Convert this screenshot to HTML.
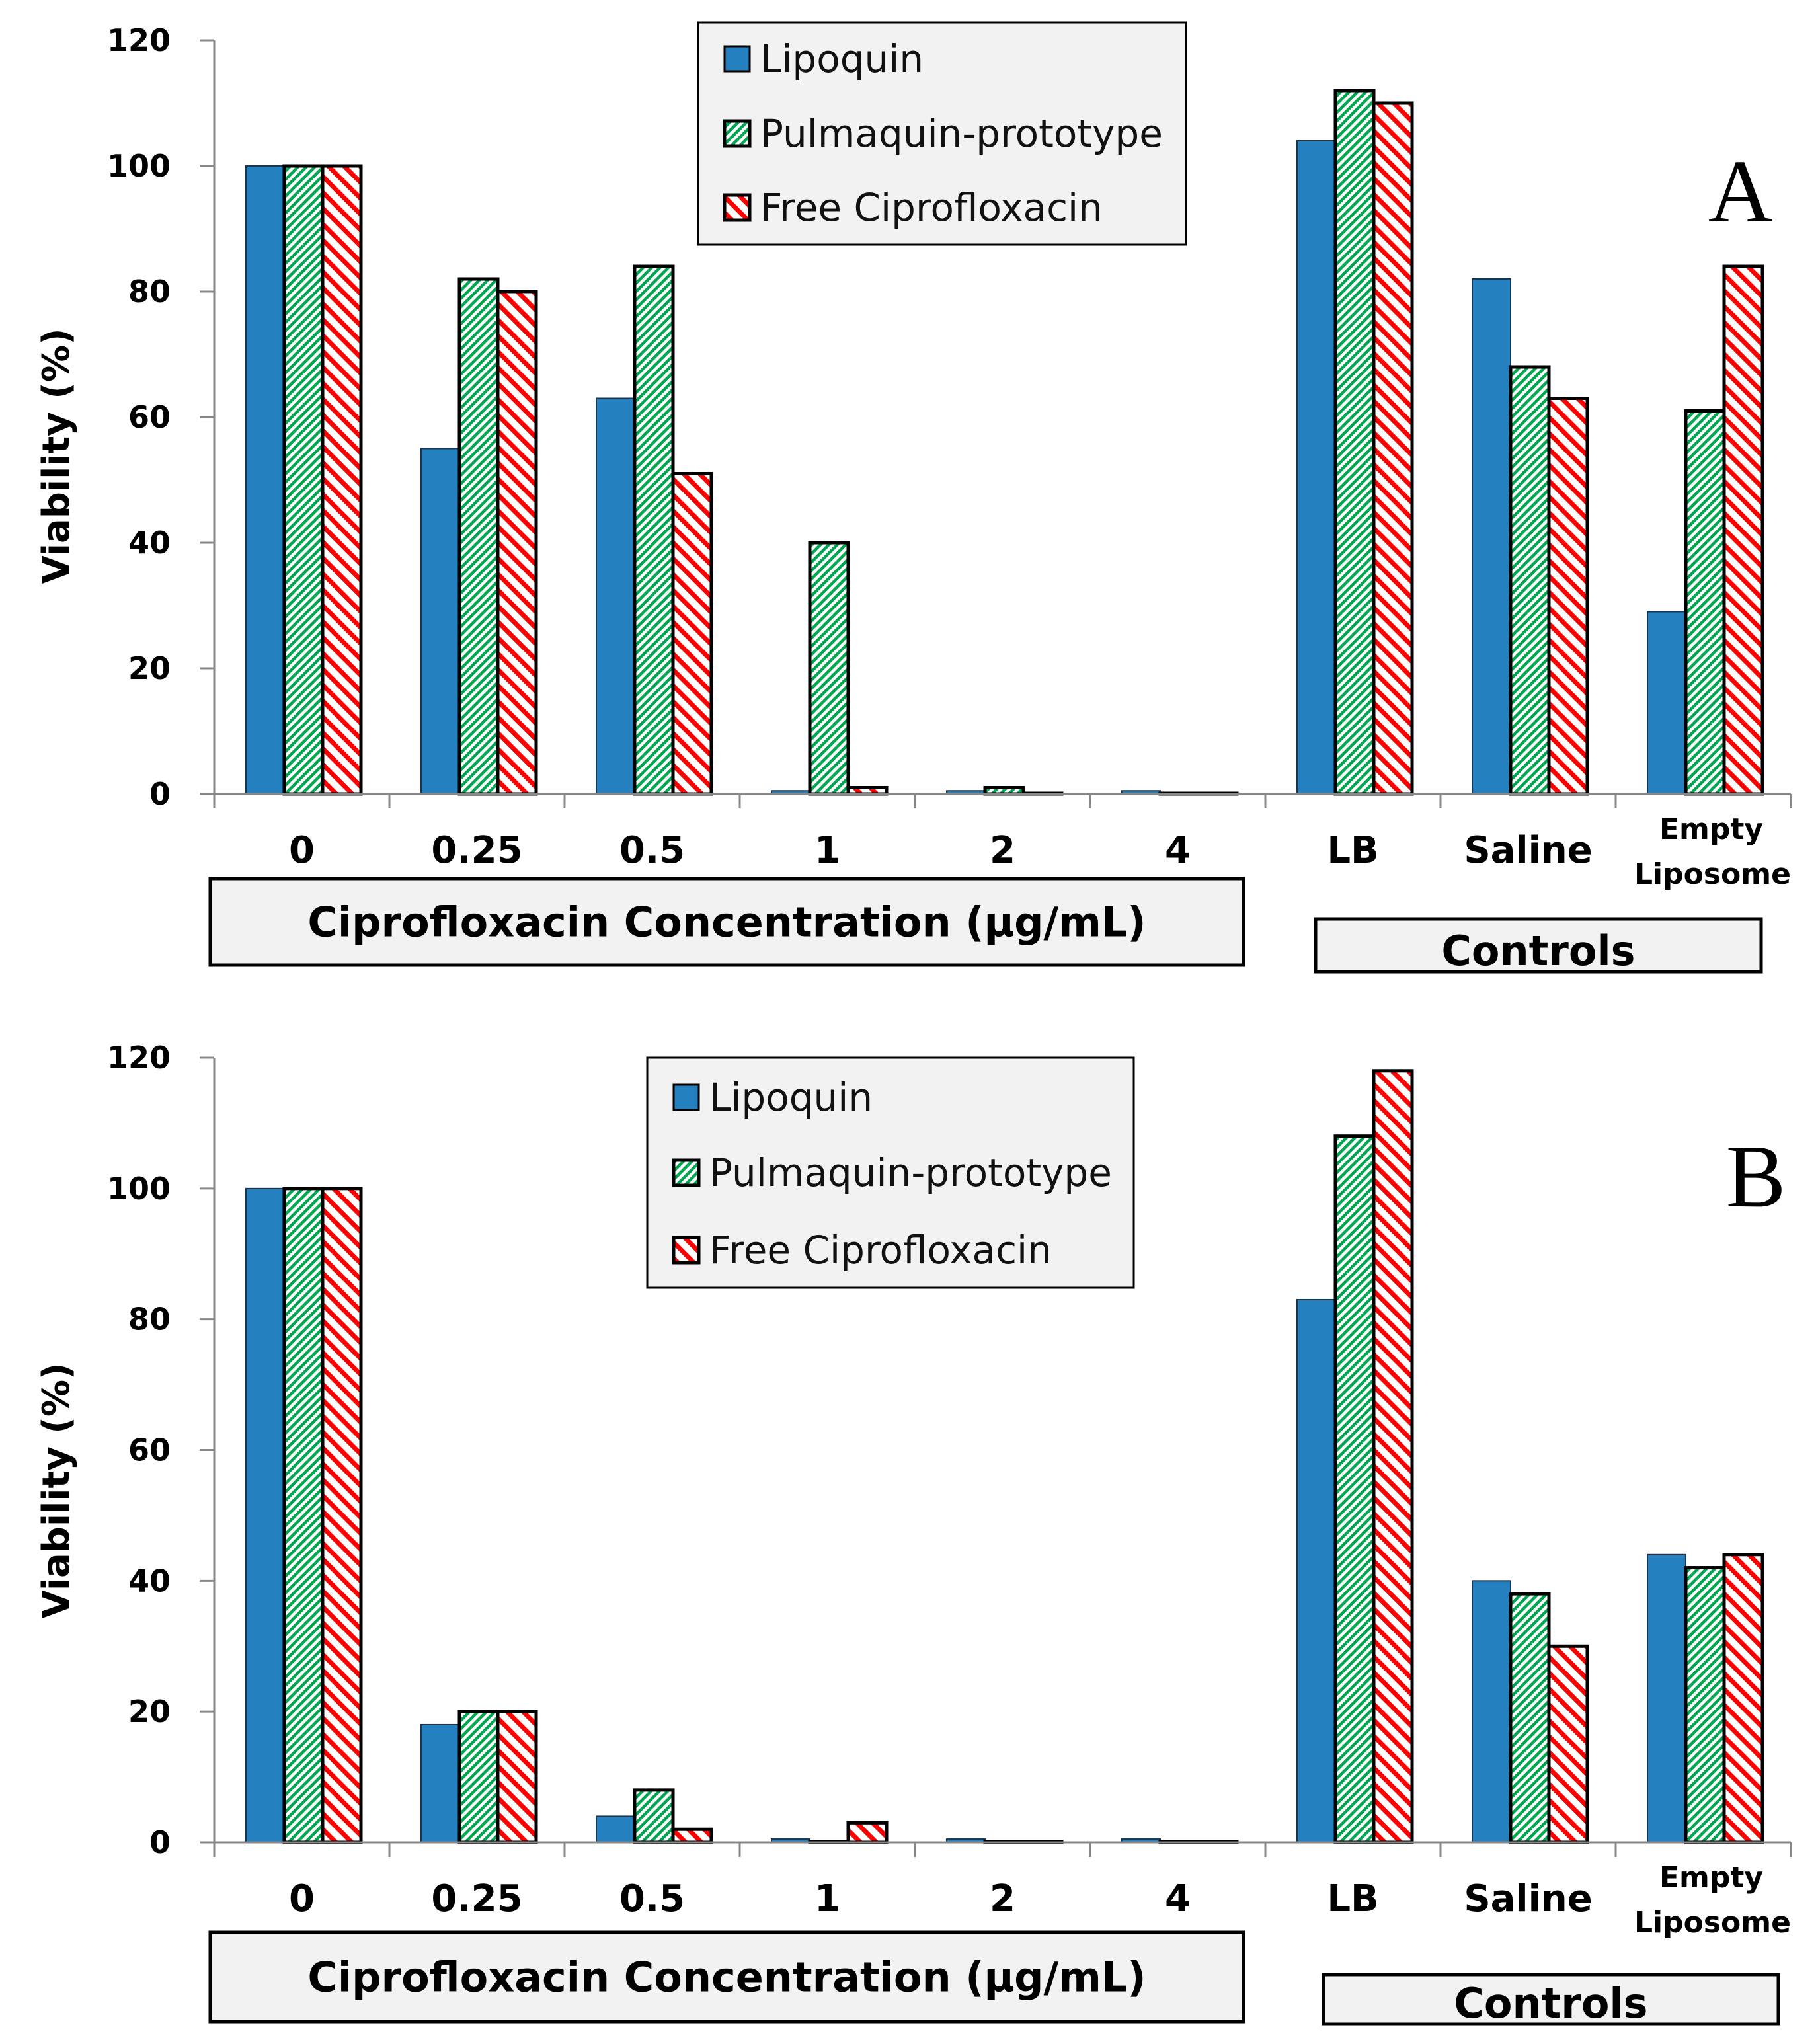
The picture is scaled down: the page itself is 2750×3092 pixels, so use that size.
<!DOCTYPE html>
<html><head><meta charset="utf-8"><style>
html,body{margin:0;padding:0;background:#fff;}
svg{display:block;}
text{font-family:"DejaVu Sans","Liberation Sans",sans-serif;}
</style></head><body>
<svg id="fig" width="2750" height="3092" xmlns="http://www.w3.org/2000/svg">
<defs>
<pattern id="pGreen" patternUnits="userSpaceOnUse" width="9" height="9" patternTransform="rotate(45)">
<rect width="9" height="9" fill="#fff"/><rect width="4.5" height="9" fill="#00a650"/></pattern>
<pattern id="pRed" patternUnits="userSpaceOnUse" width="17" height="17" patternTransform="rotate(-45)">
<rect width="17" height="17" fill="#fff"/><rect width="7" height="17" fill="#ff0000"/></pattern>
</defs>
</svg>
<script>
const categories = ["0","0.25","0.5","1","2","4","LB","Saline","Empty Liposome"];
const seriesNames = ["Lipoquin","Pulmaquin-prototype","Free Ciprofloxacin"];
const lipoA = [100,55,63,0.5,0.5,0.5,104,82,29];
const pulmA = [100,82,84,40,1,0,112,68,61];
const freeA = [100,80,51,1,0,0,110,63,84];
const lipoB = [100,18,4,0.5,0.5,0.5,83,40,44];
const pulmB = [100,20,8,0,0,0,108,38,42];
const freeB = [100,20,2,3,0,0,118,30,44];
const yTicks = [0,20,40,60,80,100,120];

const NS="http://www.w3.org/2000/svg";
const svg=document.getElementById('fig');
function el(tag,attrs,parent,txt){const e=document.createElementNS(NS,tag);for(const k in attrs)e.setAttribute(k,attrs[k]);if(txt!==undefined)e.textContent=txt;(parent||svg).appendChild(e);return e;}
const fills=["#2580c0","url(#pGreen)","url(#pRed)"];

function panel(cfg){
  const g=el('g',{});
  
  
  const x0=324,x1=2709,y0=cfg.y0,y120=cfg.y120;
  const cw=(x1-x0)/categories.length;
  const ys=v=>y0-(v/120)*(y0-y120);
  const xs=i=>x0+i*cw;
  const ax=el('line',{x1:x0,y1:y0,x2:x0,y2:y120,stroke:'#888','stroke-width':3},g);
  
  yTicks.forEach(t=>{
    el('line',{x1:x0-22,y1:ys(t),x2:x0,y2:ys(t),stroke:'#888','stroke-width':3},g);
    const tl=el('text',{x:x0-66,y:ys(t)+16,'text-anchor':'end','font-size':46,'font-weight':'bold',fill:'#000'},g,String(t));
    
  });
  const data=cfg.data;
  categories.forEach((c,i)=>{
    for(let s=0;s<3;s++){
      const v=data[s][i];
      const bx=xs(i)+48+s*58, bw=58;
      const top=ys(v);
      const r=el('rect',{x:bx,y:Math.min(top,y0-1),width:bw,height:Math.max(y0-top,1),fill:fills[s],stroke:s===0?'#1a3550':'#000','stroke-width':s===0?2:5},g);
      
      
    }
  });
  const xa=el('line',{x1:x0,y1:y0,x2:x1,y2:y0,stroke:'#888','stroke-width':3},g);
  
  for(let i=0;i<=categories.length;i++) el('line',{x1:xs(i),y1:y0,x2:xs(i),y2:y0+22,stroke:'#888','stroke-width':3},g);
  categories.forEach((c,i)=>{
    const cx=xs(i)+cw/2;
    if(c==="Empty Liposome"){
      const t1=el('text',{x:cx+12,y:y0+68,'text-anchor':'middle','font-size':44,'font-weight':'bold'},g,"Empty");
      
      const t2=el('text',{x:cx+14,y:y0+136,'text-anchor':'middle','font-size':44,'font-weight':'bold'},g,"Liposome");
      
    } else {
      const t=el('text',{x:cx,y:y0+104,'text-anchor':'middle','font-size':56,'font-weight':'bold'},g,c);
      
    }
  });
  const yt=el('text',{x:0,y:0,transform:`translate(104,${cfg.ytc}) rotate(-90)`,'text-anchor':'middle','font-size':56,'font-weight':'bold'},g,"Viability (%)");
  
  const b1=cfg.cbox;
  const br=el('rect',{x:b1[0],y:b1[1],width:b1[2]-b1[0],height:b1[3]-b1[1],fill:'#f2f2f2',stroke:'#000','stroke-width':5},g);
  
  const bt=el('text',{x:(b1[0]+b1[2])/2,y:(b1[1]+b1[3])/2+22,'text-anchor':'middle','font-size':62,'font-weight':'bold'},g,"Ciprofloxacin  Concentration  (µg/mL)");
  
  const b2=cfg.ctrl;
  const cr=el('rect',{x:b2[0],y:b2[1],width:b2[2]-b2[0],height:b2[3]-b2[1],fill:'#f2f2f2',stroke:'#000','stroke-width':5},g);
  
  const ct=el('text',{x:(b2[0]+b2[2])/2,y:b2[3]-10,'text-anchor':'middle','font-size':62,'font-weight':'bold'},g,"Controls");
  
  const L=cfg.leg;
  const lg=el('g',{},g);
  
  el('rect',{x:L[0],y:L[1],width:L[2]-L[0],height:L[3]-L[1],fill:'#f2f2f2',stroke:'#000','stroke-width':3},lg);
  seriesNames.forEach((n,s)=>{
    const cy=cfg.legY[s];
    const e=el('g',{},lg);
    
    el('rect',{x:L[0]+40,y:cy-19,width:38,height:38,fill:fills[s],stroke:'#000','stroke-width':s===0?3:5},e);
    el('text',{x:L[0]+94,y:cy+20,'font-size':58,fill:'#111'},e,n);
  });
  const pl=el('text',{x:cfg.lab[0],y:cfg.lab[1],'text-anchor':'middle','font-size':136,fill:'#000'},g,cfg.letter);
  
  pl.style.fontFamily='"Liberation Serif",serif';
}
panel({name:'panel-a',y0:1201,y120:61,data:[lipoA,pulmA,freeA],ytc:690,
  cbox:[318,1329,1881,1460],ctrl:[1990,1390,2664,1470],leg:[1056,34,1794,370],legY:[89,202,314],lab:[2633,335],letter:'A'});
panel({name:'panel-b',y0:2787,y120:1600,data:[lipoB,pulmB,freeB],ytc:2255,
  cbox:[318,2923,1881,3058],ctrl:[2002,2987,2690,3062],leg:[979,1600,1715,1948],legY:[1660,1774,1891],lab:[2656,1825],letter:'B'});
</script>
</body></html>
